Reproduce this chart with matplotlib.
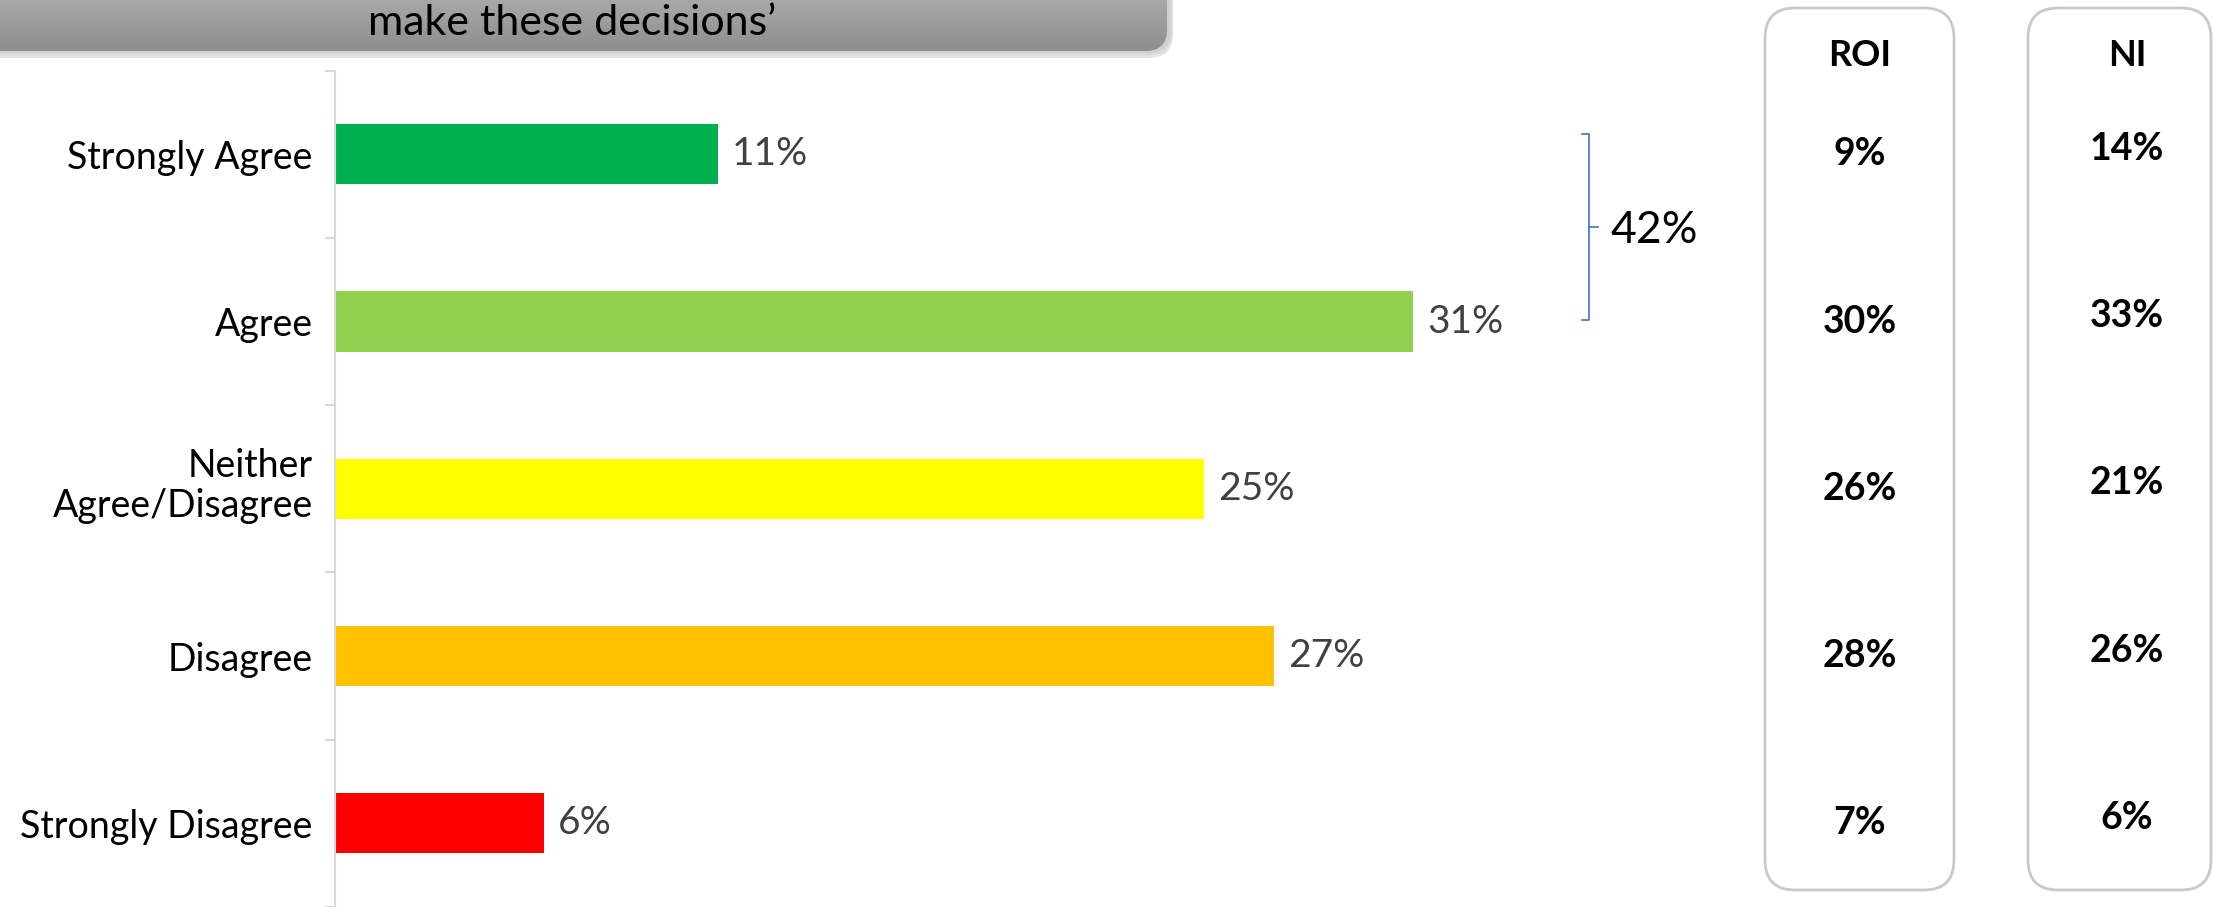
import numpy as np
import matplotlib
matplotlib.use('Agg')
import matplotlib.pyplot as plt
import matplotlib.transforms as mtransforms
from matplotlib.patches import FancyBboxPatch
from matplotlib.colors import LinearSegmentedColormap

plt.rcParams['font.family'] = ['Lato', 'DejaVu Sans']

categories = ['Strongly Agree', 'Agree', 'Neither\nAgree/Disagree', 'Disagree', 'Strongly Disagree']
overall = [11, 31, 25, 27, 6]
roi = [9, 30, 26, 28, 7]
ni = [14, 33, 21, 26, 6]
bar_colors = ['#00B050', '#92D050', '#FFFF00', '#FFC000', '#FF0000']
banner_text = 'make these decisions\u2019'

W, H = 2213, 907
fig = plt.figure(figsize=(W / 100, H / 100), dpi=100)

# overlay in pixel units for the banner and the side boxes
ov = fig.add_axes([0, 0, 1, 1], zorder=0)
ov.axis('off')

# main bar chart
ax = fig.add_axes([335 / W, 0, 1405 / W, (H - 70.6) / H], zorder=1)
ax.set_facecolor('none')
y = np.arange(len(categories))
ax.barh(y, overall, height=0.36, color=bar_colors)
ax.set_xlim(0, 40.4)
ax.set_ylim(4.49, -0.5)
for s in ['top', 'right', 'bottom']:
    ax.spines[s].set_visible(False)
ax.spines['left'].set_color('#d9d9d9')
ax.spines['left'].set_linewidth(1.5)
ax.set_xticks([])
ax.set_yticks(y)
ax.set_yticklabels(categories, fontsize=27, linespacing=1.15)
ax.set_yticks(np.arange(-0.5, 5, 1), minor=True)
ax.tick_params(axis='y', which='major', length=0, pad=16)
ax.tick_params(axis='y', which='minor', length=7.5, color='#d9d9d9', width=1.5)
# two-line label sits a little above its bar
lbl = ax.get_yticklabels()[2]
lbl.set_transform(lbl.get_transform() + mtransforms.ScaledTranslation(0, 6 / 72, fig.dpi_scale_trans))

for yi, v in zip(y, overall):
    ax.annotate(f'{v}%', (v, yi), xytext=(10, 0), textcoords='offset points',
                va='center', ha='left', fontsize=28, color='#404040')

# bracket for total agree
bx = 36.07
y_top, y_bot, y_mid = -0.12, 0.99, 0.435
ax.plot([bx - 0.2, bx, bx, bx - 0.2], [y_top, y_top, y_bot, y_bot],
        color='#4472C4', lw=1.2, clip_on=False)
ax.plot([bx, bx + 0.25], [y_mid, y_mid], color='#4472C4', lw=1.2, clip_on=False)
ax.text(bx + 0.6, y_mid + 0.02, f'{overall[0] + overall[1]}%', va='center', ha='left',
        fontsize=32, color='black')

# banner at top
shadow_cols = ['#e6e6e6', '#dadada', '#cfcfcf']
for i, c in enumerate(shadow_cols):
    off = 8 - 2.5 * i
    ov.add_patch(FancyBboxPatch((-60, -60), 1230 + off * 0.4, 110 + off,
                                boxstyle='round,pad=0,rounding_size=24',
                                facecolor=c, edgecolor='none'))
banner = FancyBboxPatch((-60, -60), 1227, 111, boxstyle='round,pad=0,rounding_size=22',
                        facecolor='#9c9c9c', edgecolor='none')
ov.add_patch(banner)
grad = np.linspace(0, 1, 100).reshape(-1, 1)
cmap = LinearSegmentedColormap.from_list('bn', ['#a8a8a8', '#8e8e8e'])
im = ov.imshow(grad, extent=[-60, 1167, 51, 0], aspect='auto', cmap=cmap, zorder=2)
im.set_clip_path(banner)
ov.text(572, 23, banner_text, ha='center', va='center', fontsize=31, color='black', zorder=3)

# side boxes
boxes = [(1765, 1954, 'ROI', roi, 1860, 0), (2028, 2211, 'NI', ni, 2127, 4)]
tr = mtransforms.blended_transform_factory(ov.transData, ax.transData)
for x0, x1, name, vals, xc, dy in boxes:
    ov.add_patch(FancyBboxPatch((x0, 8), x1 - x0, 882, boxstyle='round,pad=0,rounding_size=30',
                                facecolor='white', edgecolor='#c9c9c9', lw=2))
    ov.text(xc, 55, name, ha='center', va='center', fontsize=26, fontweight='bold')
    for yi, v in zip(y, vals):
        ov.annotate(f'{v}%', (xc, yi), xycoords=tr, xytext=(0, dy), textcoords='offset points',
                    ha='center', va='center', fontsize=27, fontweight='bold')

ov.set_xlim(0, W)
ov.set_ylim(H, 0)

fig.savefig('out.png', dpi=100)
